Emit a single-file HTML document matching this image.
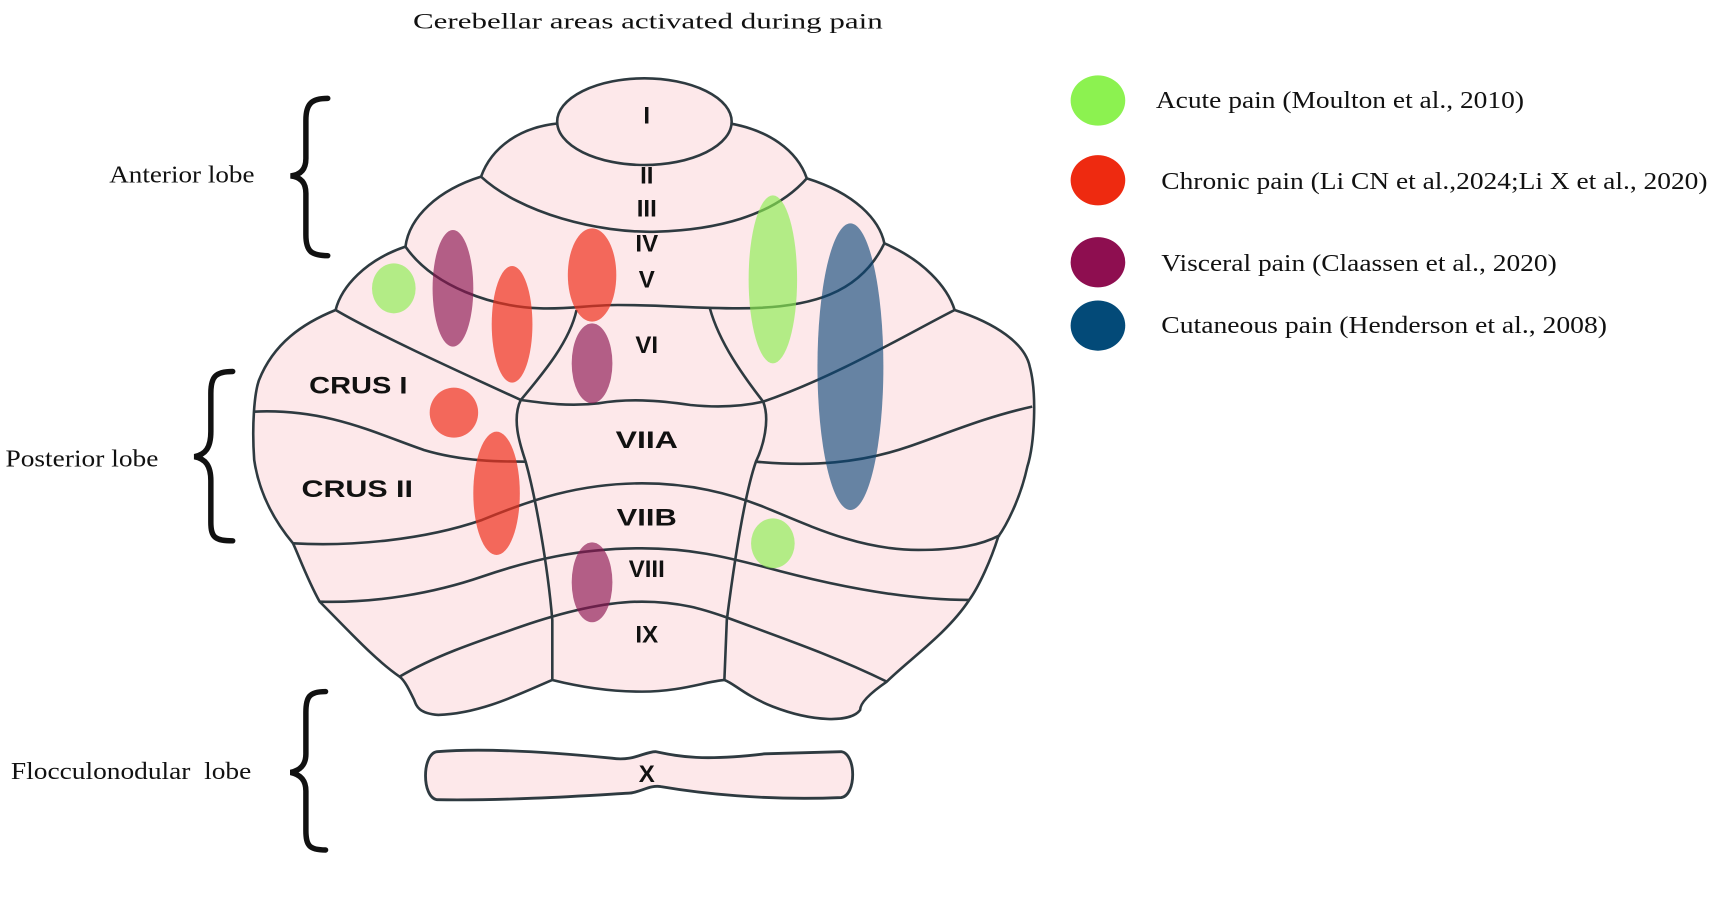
<!DOCTYPE html>
<html><head><meta charset="utf-8"><style>
html,body{margin:0;padding:0;background:#fff;}
svg{display:block;}
.t{font-family:"Liberation Serif",serif;font-size:22px;fill:#111;}
.b{font-family:"Liberation Sans",sans-serif;font-weight:bold;font-size:22px;fill:#111;text-anchor:middle;}
</style></head><body>
<svg width="1713" height="909" viewBox="0 0 1568 832" xmlns="http://www.w3.org/2000/svg">
<text x="378" y="26" class="t" textLength="430" lengthAdjust="spacingAndGlyphs" style="font-size:20px">Cerebellar areas activated during pain</text>
<g transform="translate(210.5,54.9) scale(0.4437,0.3051)" fill="none" stroke="#2e3a40" stroke-width="2.6" >
<path vector-effect="non-scaling-stroke" fill="#fde8ea" d="M518,350 C540,260 600,200 680,190 L1030,190 C1110,210 1170,270 1190,355 C1290,400 1340,480 1350,550 C1430,600 1480,680 1495,750 C1580,790 1640,850 1650,920 C1665,1000 1660,1150 1645,1220 C1630,1320 1600,1400 1585,1430 C1570,1500 1545,1580 1525,1620 C1480,1720 1400,1800 1355,1865 C1320,1900 1300,1930 1300,1950 C1280,1990 1200,1985 1120,1940 C1060,1905 1040,1870 1020,1860 C980,1865 930,1895 850,1895 C780,1895 720,1880 665,1860 C600,1900 520,1960 430,1965 C390,1960 385,1940 380,1920 C370,1890 360,1860 350,1850 C300,1800 250,1720 185,1625 C160,1560 140,1480 130,1450 C90,1380 60,1300 50,1200 C45,1100 50,1000 60,960 C90,850 150,790 218,750 C230,680 280,600 362,560 C370,470 430,390 518,350 Z"/>
<ellipse vector-effect="non-scaling-stroke" fill="#fde8ea" cx="855" cy="185" rx="180" ry="130"/>
<path vector-effect="non-scaling-stroke" d="M518,350 C600,460 760,520 880,515 C1000,510 1120,470 1190,355"/>
<path vector-effect="non-scaling-stroke" d="M362,560 C420,680 540,740 640,745 C700,748 740,735 800,735 C900,735 950,745 1050,745 C1200,745 1300,700 1350,550"/>
<path vector-effect="non-scaling-stroke" d="M218,750 C300,820 450,920 600,1020 C650,1030 700,1040 760,1030 C820,1015 880,1020 950,1035 C1020,1045 1070,1035 1100,1025 C1250,950 1400,820 1495,750"/>
<path vector-effect="non-scaling-stroke" d="M715,750 C700,850 640,950 600,1020 C580,1080 600,1160 610,1205 C630,1310 655,1510 665,1680 L665,1860"/>
<path vector-effect="non-scaling-stroke" d="M990,745 C1010,850 1060,950 1100,1025 C1115,1080 1100,1160 1085,1205 C1060,1310 1040,1510 1025,1680 L1020,1860"/>
<path vector-effect="non-scaling-stroke" d="M50,1055 C200,1045 300,1120 400,1170 C480,1205 560,1205 610,1205"/>
<path vector-effect="non-scaling-stroke" d="M1085,1205 C1200,1220 1300,1210 1400,1160 C1480,1120 1560,1070 1655,1040"/>
<path vector-effect="non-scaling-stroke" d="M130,1450 C250,1460 400,1440 520,1380 C620,1320 720,1270 850,1270 C950,1270 1030,1300 1100,1340 C1200,1400 1300,1470 1420,1470 C1500,1470 1550,1455 1588,1426"/>
<path vector-effect="non-scaling-stroke" d="M185,1625 C300,1630 420,1600 520,1550 C620,1500 720,1465 850,1465 C950,1465 1020,1490 1100,1520 C1250,1580 1400,1620 1525,1620"/>
<path vector-effect="non-scaling-stroke" d="M350,1850 C420,1790 500,1750 600,1700 C700,1650 780,1625 850,1625 C930,1625 980,1650 1020,1670 C1150,1740 1250,1790 1355,1865"/>
<g stroke="none">
<ellipse cx="338" cy="685" rx="45" ry="75" fill="rgb(140,238,80)" opacity="0.65"/>
<ellipse cx="460" cy="685" rx="42" ry="175" fill="rgb(140,20,80)" opacity="0.65"/>
<ellipse cx="582" cy="793" rx="42" ry="175" fill="rgb(238,50,30)" opacity="0.7"/>
<ellipse cx="747" cy="645" rx="50" ry="140" fill="rgb(238,50,30)" opacity="0.7"/>
<ellipse cx="747" cy="910" rx="42" ry="120" fill="rgb(140,20,80)" opacity="0.65"/>
<ellipse cx="1120" cy="658" rx="50" ry="252" fill="rgb(140,238,80)" opacity="0.65"/>
<ellipse cx="1280" cy="920" rx="68" ry="430" fill="rgb(10,70,120)" opacity="0.62"/>
<ellipse cx="462" cy="1058" rx="50" ry="75" fill="rgb(238,50,30)" opacity="0.7"/>
<ellipse cx="550" cy="1300" rx="48" ry="185" fill="rgb(238,50,30)" opacity="0.7"/>
<ellipse cx="1120" cy="1450" rx="45" ry="75" fill="rgb(140,238,80)" opacity="0.65"/>
<ellipse cx="747" cy="1567" rx="42" ry="120" fill="rgb(140,20,80)" opacity="0.65"/>
</g>
</g>
<path fill="#fde8ea" stroke="#2e3a40" stroke-width="2.6" d="M400,688 C450,684 520,690 560,694 C580,697 590,688 600,688 C620,692 640,697 700,690 L770,688 C784,690 784,728 770,730 C700,733 640,726 605,720 C595,718 585,726 575,726 C540,728 470,733 400,732 C386,730 386,690 400,688Z"/>
<text class="b" x="592" y="113">I</text>
<text class="b" x="592" y="168">II</text>
<text class="b" x="592" y="198">III</text>
<text class="b" x="592" y="230">IV</text>
<text class="b" x="592" y="263">V</text>
<text class="b" x="592" y="323">VI</text>
<text class="b" x="328" y="360" textLength="90" lengthAdjust="spacingAndGlyphs">CRUS I</text>
<text class="b" x="592" y="410" textLength="57" lengthAdjust="spacingAndGlyphs">VIIA</text>
<text class="b" x="327" y="455" textLength="102" lengthAdjust="spacingAndGlyphs">CRUS II</text>
<text class="b" x="592" y="481" textLength="55" lengthAdjust="spacingAndGlyphs">VIIB</text>
<text class="b" x="592" y="528">VIII</text>
<text class="b" x="592" y="588">IX</text>
<text class="b" x="592" y="716">X</text>
<g fill="none" stroke="#111" stroke-width="5" stroke-linecap="round">
<path d="M300,90 C285,90 280,95 280,110 L280,145 C280,155 275,160 266,161 C275,162 280,167 280,177 L280,215 C280,230 285,234 300,234"/>
<path d="M213,340 C197,340 193,345 193,360 L193,395 C193,410 188,416 178,418 C188,420 193,426 193,440 L193,478 C193,492 197,495 213,495"/>
<path d="M298,633 C283,633 280,638 280,652 L280,690 C280,700 275,705 266,707 C275,709 280,714 280,724 L280,760 C280,774 283,778 298,778"/>
</g>
<text class="t" x="100" y="167" textLength="133" lengthAdjust="spacingAndGlyphs">Anterior lobe</text>
<text class="t" x="5" y="427" textLength="140" lengthAdjust="spacingAndGlyphs">Posterior lobe</text>
<text class="t" x="10" y="713" textLength="220" lengthAdjust="spacingAndGlyphs">Flocculonodular &#160;lobe</text>
<ellipse cx="1005" cy="92" rx="25" ry="23" fill="#8cf250"/>
<ellipse cx="1005" cy="165" rx="25" ry="23" fill="#ee2a10"/>
<ellipse cx="1005" cy="240" rx="25" ry="23" fill="#8e0e50"/>
<ellipse cx="1005" cy="298" rx="25" ry="23" fill="#034a78"/>
<text class="t" x="1058" y="99" textLength="337" lengthAdjust="spacingAndGlyphs">Acute pain (Moulton et al., 2010)</text>
<text class="t" x="1063" y="173" textLength="500" lengthAdjust="spacingAndGlyphs">Chronic pain (Li CN et al.,2024;Li X et al., 2020)</text>
<text class="t" x="1063" y="248" textLength="362" lengthAdjust="spacingAndGlyphs">Visceral pain (Claassen et al., 2020)</text>
<text class="t" x="1063" y="305" textLength="408" lengthAdjust="spacingAndGlyphs">Cutaneous pain (Henderson et al., 2008)</text>
</svg>
</body></html>
